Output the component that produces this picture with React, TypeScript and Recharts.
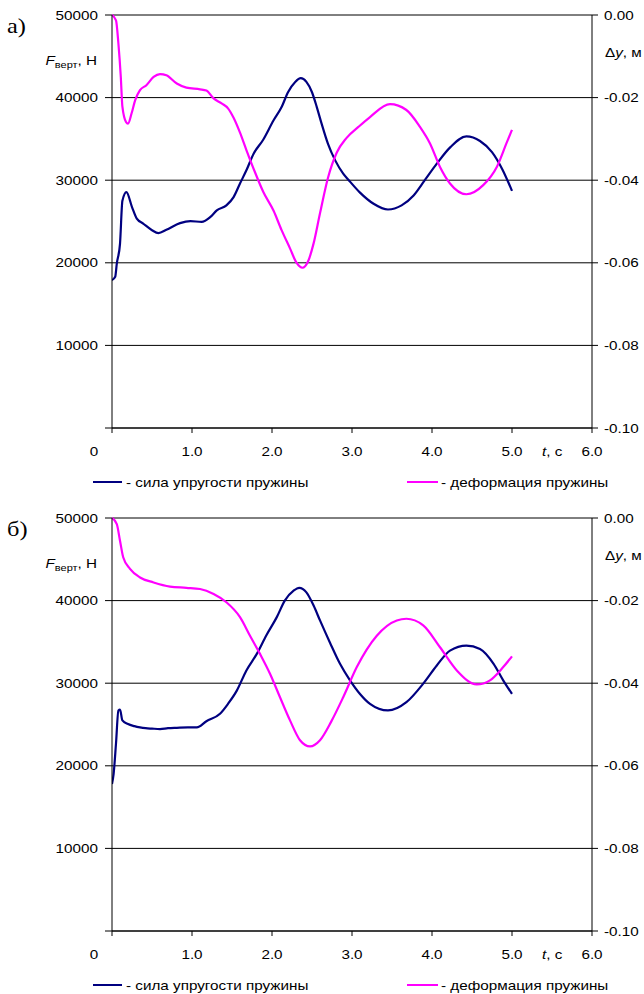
import React from "react";
import { LineChart, Line, XAxis, YAxis, CartesianGrid } from "recharts";

// [t, c ; F, Н] — сила упругости пружины, вариант а)
const forceA: [number, number][] = [
  [0, 17900], [0.04, 18300], [0.06, 19900], [0.1, 22300], [0.13, 27500], [0.18, 28550],
  [0.25, 26750], [0.31, 25350], [0.39, 24750], [0.5, 23950], [0.58, 23600], [0.68, 24000],
  [0.85, 24800], [0.98, 25050], [1.12, 24950], [1.23, 25550], [1.31, 26350], [1.43, 26950],
  [1.52, 27950], [1.6, 29600], [1.68, 31200], [1.77, 33200], [1.89, 34900], [2.02, 37250],
  [2.12, 38850], [2.2, 40650], [2.29, 41900], [2.36, 42350], [2.43, 41900], [2.5, 40650],
  [2.56, 38850], [2.62, 36850], [2.7, 34400], [2.79, 32400], [2.89, 30800], [2.96, 30000],
  [3.1, 28500], [3.27, 27150], [3.45, 26450], [3.62, 26950], [3.77, 28150], [3.91, 30000],
  [4.06, 32000], [4.23, 34000], [4.43, 35300], [4.6, 34750], [4.75, 33400], [4.88, 31300],
  [5.0, 28700],
];

// [t, c ; Δy, м] — деформация пружины, вариант а)
const deformA: [number, number][] = [
  [0, 0], [0.05, -0.0013], [0.08, -0.0069], [0.11, -0.015], [0.13, -0.0222], [0.175, -0.0259],
  [0.2, -0.0263], [0.245, -0.0238], [0.29, -0.0206], [0.35, -0.0182], [0.43, -0.017],
  [0.52, -0.015], [0.6, -0.0143], [0.68, -0.0146], [0.81, -0.0166], [0.93, -0.0176],
  [1.1, -0.018], [1.18, -0.0183], [1.27, -0.0202], [1.37, -0.0214], [1.45, -0.0226],
  [1.52, -0.0249], [1.6, -0.0285], [1.68, -0.0327], [1.79, -0.0382], [1.89, -0.0428],
  [2.02, -0.0474], [2.12, -0.0521], [2.225, -0.0565], [2.31, -0.0601], [2.38, -0.0612],
  [2.45, -0.0597], [2.52, -0.0553], [2.6, -0.048], [2.7, -0.0394], [2.81, -0.0333],
  [2.93, -0.0298], [3.08, -0.0271], [3.225, -0.0247], [3.475, -0.0216], [3.68, -0.023],
  [3.85, -0.0271], [3.975, -0.0311], [4.1, -0.0368], [4.225, -0.0408], [4.43, -0.0434],
  [4.64, -0.0412], [4.81, -0.0368], [4.93, -0.0311], [5.0, -0.0278],
];

// вариант б)
const forceB: [number, number][] = [
  [0, 17800], [0.02, 19000], [0.05, 22700], [0.08, 26700], [0.1, 26800], [0.13, 25500],
  [0.2, 25050], [0.28, 24800], [0.35, 24650], [0.42, 24550], [0.5, 24500], [0.6, 24450],
  [0.7, 24550], [0.81, 24600], [0.95, 24650], [1.06, 24650], [1.18, 25400], [1.35, 26300],
  [1.45, 27500], [1.56, 29100], [1.68, 31550], [1.81, 33550], [1.93, 35800], [2.06, 38000],
  [2.16, 40000], [2.27, 41200], [2.34, 41550], [2.43, 41000], [2.52, 39400], [2.6, 37600],
  [2.725, 34900], [2.85, 32350], [2.975, 30350], [3.1, 28700], [3.225, 27500], [3.45, 26700],
  [3.68, 27700], [3.89, 29950], [4.06, 32150], [4.225, 33950], [4.43, 34550], [4.6, 34150],
  [4.77, 32350], [4.89, 30350], [5.0, 28700],
];

const deformB: [number, number][] = [
  [0, 0], [0.06, -0.0015], [0.1, -0.0055], [0.14, -0.0095], [0.225, -0.0123], [0.35, -0.0144],
  [0.52, -0.0156], [0.725, -0.0166], [0.93, -0.0169], [1.1, -0.0172], [1.27, -0.0184],
  [1.43, -0.0204], [1.6, -0.024], [1.725, -0.0285], [1.85, -0.0329], [1.975, -0.0377],
  [2.1, -0.0434], [2.225, -0.049], [2.35, -0.0538], [2.475, -0.0553], [2.6, -0.0538],
  [2.74, -0.0493], [2.89, -0.0434], [3.06, -0.0361], [3.31, -0.0285], [3.56, -0.0248],
  [3.68, -0.0244], [3.89, -0.026], [4.1, -0.0313], [4.31, -0.0369], [4.56, -0.0403],
  [4.725, -0.0393], [4.89, -0.0361], [5.0, -0.0335],
];

const tTicks = [0, 1, 2, 3, 4, 5, 6];
const forceTicks = [0, 10000, 20000, 30000, 40000, 50000];
const deformTicks = [-0.1, -0.08, -0.06, -0.04, -0.02, 0];
const legendLabels = ["- сила упругости пружины", "- деформация пружины"];

const FONT = '"Liberation Sans", Arial, sans-serif';
const SX = 1.22; // text in the source is a bit stretched horizontally
const FS = 12.5;
const NAVY = "#000080";
const MAGENTA = "#ff00ff";

const toPoints = (arr: [number, number][]) => arr.map(([t, v]) => ({ t, v }));

const XTick = (props: any) => {
  const { x, y, payload } = props;
  const v = payload.value;
  const label = v === 0 ? "0" : v.toFixed(1);
  const dx = v === 0 ? -18 : 0;
  return (
    <text
      transform={`translate(${x + dx},${y + 23}) scale(${SX},1)`}
      textAnchor="middle"
      fontFamily={FONT}
      fontSize={FS}
      fill="#000"
    >
      {label}
    </text>
  );
};

const LeftTick = (props: any) => {
  const { x, y, payload } = props;
  if (payload.value === 0) return null;
  return (
    <text
      transform={`translate(${x - 7},${y + 4.5}) scale(${SX},1)`}
      textAnchor="end"
      fontFamily={FONT}
      fontSize={FS}
      fill="#000"
    >
      {payload.value}
    </text>
  );
};

const RightTick = (props: any) => {
  const { x, y, payload } = props;
  return (
    <text
      transform={`translate(${x + 6},${y + 4.5}) scale(${SX},1)`}
      textAnchor="start"
      fontFamily={FONT}
      fontSize={FS}
      fill="#000"
    >
      {payload.value.toFixed(2)}
    </text>
  );
};

const Txt = ({ x, y, anchor = "start", children, size = FS, family = FONT }: any) => (
  <text
    transform={`translate(${x},${y}) scale(${SX},1)`}
    textAnchor={anchor}
    fontFamily={family}
    fontSize={size}
    fill="#000"
  >
    {children}
  </text>
);

const Panel = ({ top, letter, force, deform }: any) => (
  <div style={{ position: "absolute", left: 0, top, width: 644, height: 491 }}>
    <LineChart width={644} height={491} margin={{ top: 15, right: 0, bottom: 33, left: 52 }}>
      <CartesianGrid yAxisId="l" vertical={false} stroke="#000" strokeWidth={1} />
      <XAxis
        dataKey="t"
        type="number"
        domain={[0, 6]}
        ticks={tTicks}
        height={30}
        tickSize={5}
        tickMargin={0}
        stroke="#000"
        tick={<XTick />}
        allowDataOverflow
      />
      <YAxis
        yAxisId="l"
        domain={[0, 50000]}
        ticks={forceTicks}
        width={60}
        tickSize={7}
        tickMargin={0}
        stroke="#000"
        tick={<LeftTick />}
      />
      <YAxis
        yAxisId="r"
        orientation="right"
        domain={[-0.1, 0]}
        ticks={deformTicks}
        width={52}
        tickSize={6}
        tickMargin={0}
        stroke="#000"
        tick={<RightTick />}
      />
      <Line
        yAxisId="l"
        data={toPoints(force)}
        dataKey="v"
        type="monotone"
        stroke={NAVY}
        strokeWidth={2.2}
        dot={false}
        isAnimationActive={false}
      />
      <Line
        yAxisId="r"
        data={toPoints(deform)}
        dataKey="v"
        type="monotone"
        stroke={MAGENTA}
        strokeWidth={2.2}
        dot={false}
        isAnimationActive={false}
      />
    </LineChart>
    <svg
      width={644}
      height={491}
      style={{ position: "absolute", left: 0, top: 0, pointerEvents: "none" }}
    >
      <Txt x={7} y={33} size={20} family='"Liberation Serif", "Times New Roman", serif'>
        {letter}
      </Txt>
      <Txt x={97} y={65} anchor="end">
        <tspan fontStyle="italic">F</tspan>
        <tspan fontSize={9} dy={3}>верт</tspan>
        <tspan dy={-3}>, Н</tspan>
      </Txt>
      <Txt x={605} y={57}>
        Δ<tspan fontStyle="italic">y</tspan>, м
      </Txt>
      <Txt x={542} y={456}>
        <tspan fontStyle="italic">t</tspan>, с
      </Txt>
      <line x1={93} x2={122} y1={482} y2={482} stroke={NAVY} strokeWidth={2} />
      <Txt x={126} y={486.5}>{legendLabels[0]}</Txt>
      <line x1={407} x2={438} y1={482} y2={482} stroke={MAGENTA} strokeWidth={2} />
      <Txt x={441} y={486.5}>{legendLabels[1]}</Txt>
    </svg>
  </div>
);

export default function App() {
  return (
    <div
      style={{
        position: "absolute",
        left: 0,
        top: 0,
        width: 644,
        height: 994,
        background: "#fff",
        overflow: "hidden",
      }}
    >
      <Panel top={0} letter="а)" force={forceA} deform={deformA} />
      <Panel top={503} letter="б)" force={forceB} deform={deformB} />
    </div>
  );
}
